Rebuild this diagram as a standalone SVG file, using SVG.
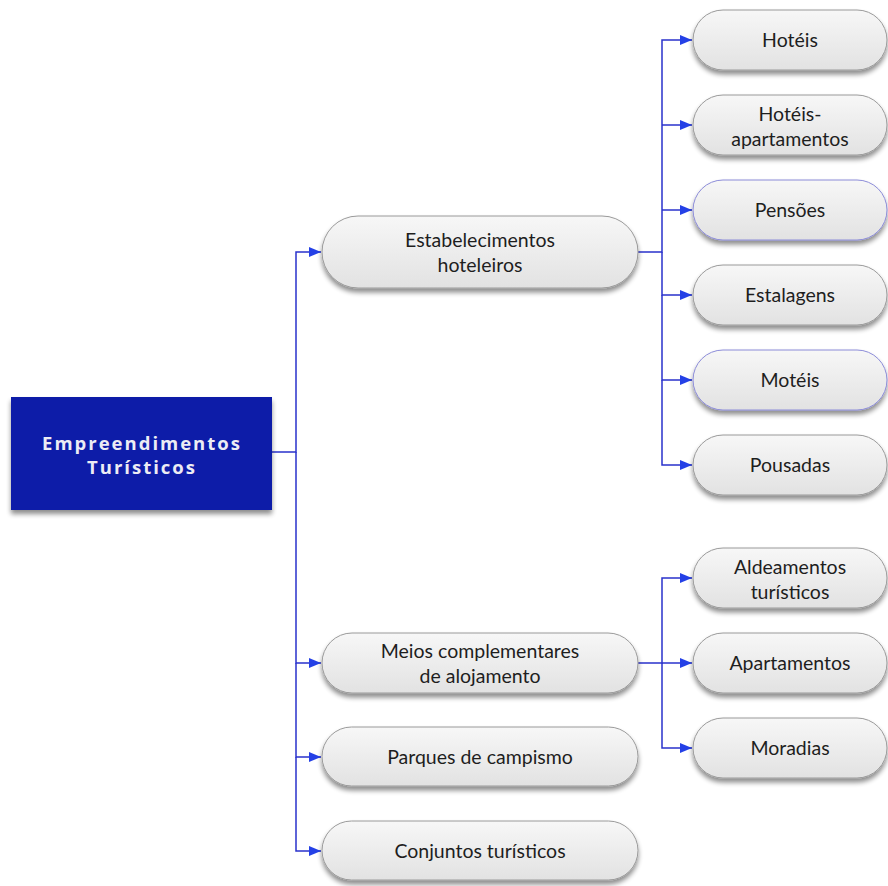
<svg xmlns="http://www.w3.org/2000/svg" width="888" height="886" viewBox="0 0 888 886">
  <defs>
    <linearGradient id="pillFill" x1="0" y1="0" x2="0" y2="1">
      <stop offset="0" stop-color="#f7f7f7"/>
      <stop offset="1" stop-color="#e2e2e2"/>
    </linearGradient>
    <filter id="shadow" x="-10%" y="-20%" width="120%" height="160%">
      <feGaussianBlur in="SourceAlpha" stdDeviation="2.5"/>
      <feOffset dx="0" dy="4" result="blur"/>
      <feComponentTransfer><feFuncA type="linear" slope="0.45"/></feComponentTransfer>
      <feMerge><feMergeNode/><feMergeNode in="SourceGraphic"/></feMerge>
    </filter>
    <marker id="arrow" markerWidth="13" markerHeight="10" refX="12" refY="5" orient="auto" markerUnits="userSpaceOnUse">
      <path d="M0,0 L12,5 L0,10 z" fill="#2440e6"/>
    </marker>
  </defs>
  <style>
    .pill { fill: url(#pillFill); stroke: #9a9a9a; stroke-width: 1; filter: url(#shadow); }
    .pill.sel { stroke: #8c8cd8; }
    .lbl { font-family: Lato, "Open Sans", "Liberation Sans", sans-serif; font-size: 19.5px; fill: #1e1e1e; text-anchor: middle; }
    .root-lbl { font-family: "Open Sans", "DejaVu Sans", sans-serif; font-weight: bold; font-size: 18.5px; letter-spacing: 2px; fill: #ececf4; text-anchor: middle; }
    .conn { fill: none; stroke: #2a32cc; stroke-width: 1.5; }
  </style>

  <rect width="888" height="886" fill="#ffffff"/>

  <g id="connectors">
    <path class="conn" d="M272,452 H296 V252 H321" marker-end="url(#arrow)"/>
    <path class="conn" d="M296,452 V663 H321" marker-end="url(#arrow)"/>
    <path class="conn" d="M296,663 V757 H321" marker-end="url(#arrow)"/>
    <path class="conn" d="M296,757 V851 H321" marker-end="url(#arrow)"/>

    <path class="conn" d="M638,252 H662 V40 H692" marker-end="url(#arrow)"/>
    <path class="conn" d="M662,125 H692" marker-end="url(#arrow)"/>
    <path class="conn" d="M662,210 H692" marker-end="url(#arrow)"/>
    <path class="conn" d="M662,252 V295 H692" marker-end="url(#arrow)"/>
    <path class="conn" d="M662,295 V380 H692" marker-end="url(#arrow)"/>
    <path class="conn" d="M662,380 V465 H692" marker-end="url(#arrow)"/>

    <path class="conn" d="M638,663 H662 V578 H692" marker-end="url(#arrow)"/>
    <path class="conn" d="M662,663 H692" marker-end="url(#arrow)"/>
    <path class="conn" d="M662,663 V748 H692" marker-end="url(#arrow)"/>
  </g>

  <g id="root">
    <rect x="11" y="397" width="261" height="113" fill="#0b1ca8" filter="url(#shadow)"/>
    <text class="root-lbl" x="142" y="450">Empreendimentos</text>
    <text class="root-lbl" x="142" y="474">Turísticos</text>
  </g>

  <g id="estabelecimentos">
    <rect class="pill" x="322" y="216" width="316" height="72" rx="36"/>
    <text class="lbl" x="480" y="247">Estabelecimentos</text>
    <text class="lbl" x="480" y="272">hoteleiros</text>
  </g>
  <g id="meios">
    <rect class="pill" x="322" y="633" width="316" height="60" rx="30"/>
    <text class="lbl" x="480" y="658">Meios complementares</text>
    <text class="lbl" x="480" y="683">de alojamento</text>
  </g>
  <g id="parques">
    <rect class="pill" x="322" y="727" width="316" height="59" rx="29.5"/>
    <text class="lbl" x="480" y="764">Parques de campismo</text>
  </g>
  <g id="conjuntos">
    <rect class="pill" x="322" y="821" width="316" height="59" rx="29.5"/>
    <text class="lbl" x="480" y="858">Conjuntos turísticos</text>
  </g>

  <g id="hoteis">
    <rect class="pill" x="693" y="10" width="194" height="60" rx="30"/>
    <text class="lbl" x="790" y="47">Hotéis</text>
  </g>
  <g id="hoteis-apartamentos">
    <rect class="pill" x="693" y="95" width="194" height="60" rx="30"/>
    <text class="lbl" x="790" y="121">Hotéis-</text>
    <text class="lbl" x="790" y="146">apartamentos</text>
  </g>
  <g id="pensoes">
    <rect class="pill sel" x="693" y="180" width="194" height="60" rx="30"/>
    <text class="lbl" x="790" y="217">Pensões</text>
  </g>
  <g id="estalagens">
    <rect class="pill" x="693" y="265" width="194" height="60" rx="30"/>
    <text class="lbl" x="790" y="302">Estalagens</text>
  </g>
  <g id="moteis">
    <rect class="pill sel" x="693" y="350" width="194" height="60" rx="30"/>
    <text class="lbl" x="790" y="387">Motéis</text>
  </g>
  <g id="pousadas">
    <rect class="pill" x="693" y="435" width="194" height="60" rx="30"/>
    <text class="lbl" x="790" y="472">Pousadas</text>
  </g>

  <g id="aldeamentos">
    <rect class="pill" x="693" y="548" width="194" height="60" rx="30"/>
    <text class="lbl" x="790" y="574">Aldeamentos</text>
    <text class="lbl" x="790" y="599">turísticos</text>
  </g>
  <g id="apartamentos">
    <rect class="pill" x="693" y="633" width="194" height="60" rx="30"/>
    <text class="lbl" x="790" y="670">Apartamentos</text>
  </g>
  <g id="moradias">
    <rect class="pill" x="693" y="718" width="194" height="60" rx="30"/>
    <text class="lbl" x="790" y="755">Moradias</text>
  </g>
</svg>
